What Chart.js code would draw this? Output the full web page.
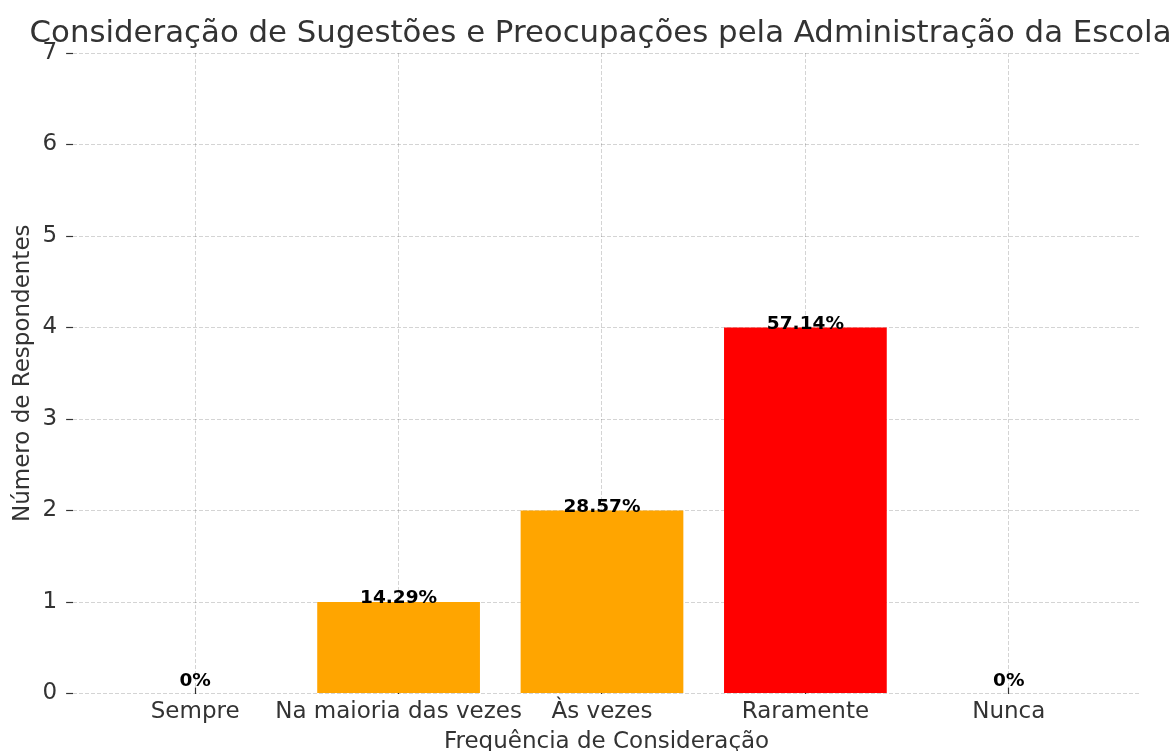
<!DOCTYPE html>
<html>
<head>
<meta charset="utf-8">
<script src="https://cdn.jsdelivr.net/npm/chart.js@4.4.0/dist/chart.umd.min.js"></script>
<style>
  html, body { margin: 0; padding: 0; background: #fff; }
  #wrap { width: 1173px; height: 751px; }
</style>
</head>
<body>
<div id="wrap"><canvas id="chart" width="1173" height="751"></canvas></div>
<script>
const categories = ['Sempre', 'Na maioria das vezes', 'Às vezes', 'Raramente', 'Nunca'];
const respondents = [0, 1, 2, 4, 0];
const percentLabels = ['0%', '14.29%', '28.57%', '57.14%', '0%'];
const barColors = ['#FFA500', '#FFA500', '#FFA500', '#FF0000', '#FF0000'];
const yTicks = [0, 1, 2, 3, 4, 5, 6, 7];

const chartTitle = 'Consideração de Sugestões e Preocupações pela Administração da Escola';
const FONT = "'DejaVu Sans', sans-serif";
const TEXT = '#333333';

// title centred over the plot area, like matplotlib does it
const plotTitle = {
    id: 'plotTitle',
    afterDraw(chart) {
        const { ctx, chartArea } = chart;
        ctx.save();
        ctx.font = '30.8px ' + FONT;
        ctx.fillStyle = TEXT;
        ctx.textAlign = 'center';
        ctx.textBaseline = 'alphabetic';
        ctx.fillText(chartTitle, (chartArea.left + chartArea.right) / 2 - 6, 42);
        ctx.restore();
    }
};

// percent labels above each bar, drawn last so they sit over the grid
const barLabels = {
    id: 'barLabels',
    afterDraw(chart) {
        const ctx = chart.ctx;
        const meta = chart.getDatasetMeta(0);
        ctx.save();
        ctx.font = 'bold 18.5px ' + FONT;
        ctx.fillStyle = '#000';
        ctx.textAlign = 'center';
        ctx.textBaseline = 'alphabetic';
        meta.data.forEach((bar, i) => {
            const dy = respondents[i] === 0 ? -8 : 1;
            ctx.fillText(percentLabels[i], bar.x, bar.y + dy);
        });
        ctx.restore();
    }
};

const gridColor = 'rgba(0,0,0,0.17)';

new Chart(document.getElementById('chart'), {
    type: 'bar',
    data: {
        datasets: [{
            data: respondents.map((v, i) => ({ x: i, y: v })),
            backgroundColor: barColors,
            borderWidth: 0,
            barPercentage: 0.8,
            categoryPercentage: 1.0
        }]
    },
    options: {
        responsive: false,
        animation: false,
        layout: { padding: { top: 53, right: 33, bottom: 0, left: 0 } },
        plugins: {
            legend: { display: false },
            tooltip: { enabled: false },
            title: { display: false }
        },
        scales: {
            x: {
                type: 'linear',
                min: -0.6,
                max: 4.645,
                offset: false,
                z: 1,
                afterBuildTicks: axis => { axis.ticks = categories.map((c, i) => ({ value: i })); },
                ticks: {
                    callback: v => categories[v],
                    color: TEXT,
                    font: { family: FONT, size: 23, lineHeight: 1.0 },
                    padding: 13.5,
                    maxRotation: 0,
                    autoSkip: false
                },
                grid: {
                    offset: false,
                    color: gridColor,
                    lineWidth: 1,
                    tickColor: TEXT,
                    tickBorderDash: [],
                    tickLength: -6,
                    tickWidth: 1.2
                },
                border: { display: false, dash: [4, 2] },
                title: {
                    display: true,
                    text: 'Frequência de Consideração',
                    color: TEXT,
                    font: { family: FONT, size: 23, lineHeight: 1.0 },
                    padding: { top: -6.5, bottom: -3 }
                }
            },
            y: {
                min: 0,
                max: 7,
                z: 1,
                afterBuildTicks: axis => { axis.ticks = yTicks.map(v => ({ value: v })); },
                ticks: {
                    color: TEXT,
                    font: { family: FONT, size: 23, lineHeight: 1.0 },
                    padding: 9
                },
                grid: {
                    color: gridColor,
                    lineWidth: 1,
                    tickColor: TEXT,
                    tickBorderDash: [],
                    tickLength: 7,
                    tickWidth: 1.2
                },
                border: { display: false, dash: [4, 2] },
                title: {
                    display: true,
                    text: 'Número de Respondentes',
                    color: TEXT,
                    font: { family: FONT, size: 23, lineHeight: 1.0 },
                    padding: { top: 11.5, bottom: -1 }
                }
            }
        }
    },
    plugins: [barLabels, plotTitle]
});
</script>
</body>
</html>
